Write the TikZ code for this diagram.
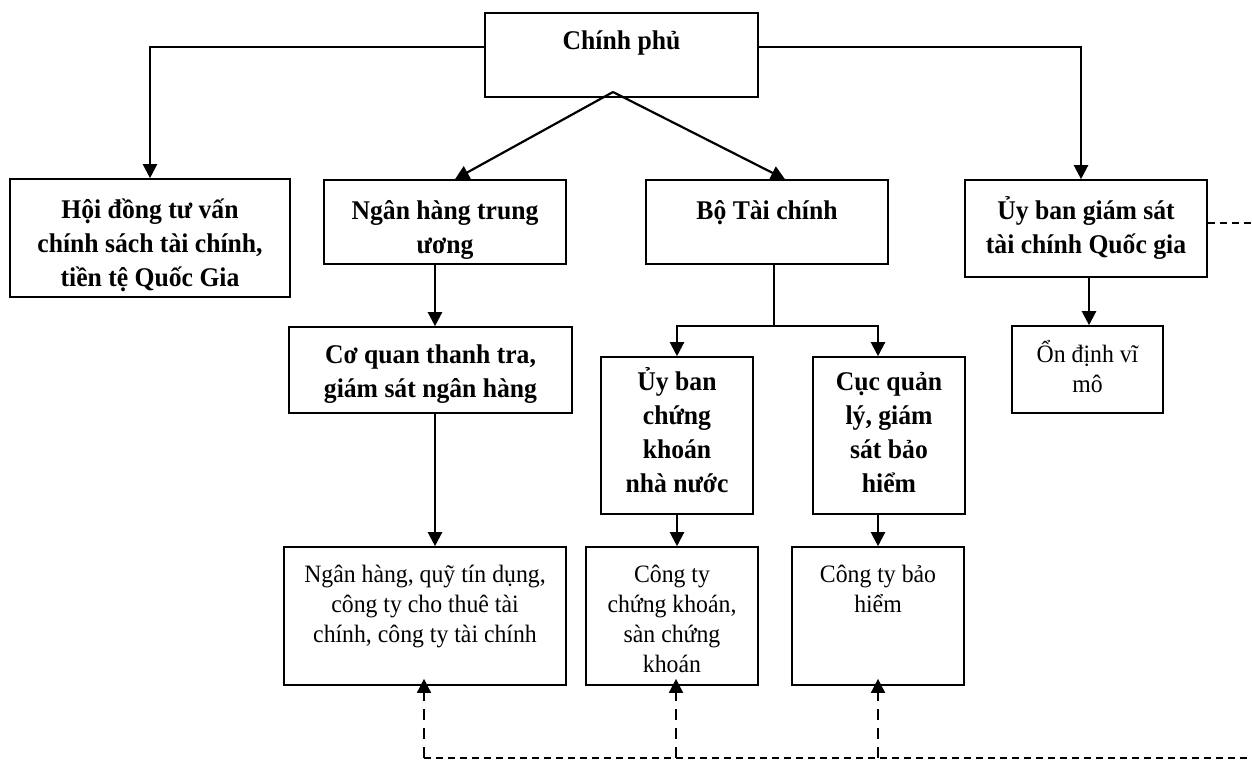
\documentclass[tikz,border=0pt]{standalone}
\usepackage{fontspec}
\setmainfont{Liberation Serif}[FakeStretch=0.95]
\usetikzlibrary{arrows.meta,fit}

\begin{document}
\begin{tikzpicture}[x=1pt,y=-1pt,
	>={Triangle[width=14pt,length=14pt]},
	khung/.style={draw, line width=1.6pt, inner sep=0pt},
	dam/.style={anchor=base, inner sep=0pt, font={\fontsize{27}{34}\selectfont\bfseries}},
	thuong/.style={anchor=base, inner sep=0pt, font={\fontsize{25}{30}\selectfont}},
	thap/.style={yshift=-6pt},
	noi/.style={line width=2.2pt},
	netdut/.style={line width=1.5pt, dash pattern=on 7pt off 5pt},
	netdoc/.style={line width=1.5pt, dash pattern=on 11pt off 8pt}]
	\useasboundingbox (0,0) rectangle (1252,763);

	% khung va chu
	\def\hop#1#2#3#4#5{
		\node[khung, fit={#2 #3}] (#1) {};
		\node[#4] (#1-chu) at ([yshift=-34pt]#1.north)
			{\begin{tabular}[t]{@{}c@{}}#5\end{tabular}};
	}

	\hop{cp}{(485,13)}{(758,97)}{dam,yshift=-3pt}{Chính phủ}
	\hop{hd}{(10,179)}{(290,297)}{dam,thap}{Hội đồng tư vấn\\chính sách tài chính,\\tiền tệ Quốc Gia}
	\hop{nhtw}{(324,180)}{(566,264)}{dam,thap}{Ngân hàng trung\\ương}
	\hop{btc}{(646,180)}{(888,264)}{dam,thap}{Bộ Tài chính}
	\hop{ubgs}{(965,180)}{(1207,277)}{dam,thap}{Ủy ban giám sát\\tài chính Quốc gia}
	\hop{cq}{(289,327)}{(572,413)}{dam,yshift=-3pt}{Cơ quan thanh tra,\\giám sát ngân hàng}
	\hop{ubck}{(601,357)}{(753,514)}{dam}{Ủy ban\\chứng\\khoán\\nhà nước}
	\hop{cuc}{(813,357)}{(965,514)}{dam}{Cục quản\\lý, giám\\sát bảo\\hiểm}
	\hop{od}{(1012,326)}{(1163,413)}{thuong,yshift=-3pt}{Ổn định vĩ\\mô}
	\hop{nhq}{(284,547)}{(566,685)}{thuong,yshift=-2pt}{Ngân hàng, quỹ tín dụng,\\công ty cho thuê tài\\chính, công ty tài chính}
	\hop{ctck}{(586,547)}{(758,685)}{thuong,yshift=-2pt}{Công ty\\chứng khoán,\\sàn chứng\\khoán}
	\hop{ctbh}{(792,547)}{(964,685)}{thuong,yshift=-2pt}{Công ty bảo\\hiểm}

	% duong noi
	\draw[noi,->] (cp.west |- 0,47) -| (hd.north);
	\draw[noi,->] (cp.east |- 0,47) -| (1081,0 |- ubgs.north);
	\coordinate (dinh) at (613,92);
	\draw[noi,->] (dinh) -- (455,0 |- nhtw.north);
	\draw[noi,->] (dinh) -- (785,0 |- btc.north);
	\draw[noi,->] (435,0 |- nhtw.south) -- (435,0 |- cq.north);
	\draw[noi,->] (435,0 |- cq.south) -- (435,0 |- nhq.north);
	\coordinate (re) at (774,326);
	\draw[noi] (re |- btc.south) -- (re);
	\draw[noi,->] (re) -| (ubck.north);
	\draw[noi,->] (re) -| (878,0 |- cuc.north);
	\draw[noi,->] (ubck.south) -- (ctck.north -| ubck.south);
	\draw[noi,->] (878,0 |- cuc.south) -- (878,0 |- ctbh.north);
	\draw[noi,->] (1089,0 |- ubgs.south) -- (1089,0 |- od.north);

	% net dut
	\coordinate (phai) at (1252,223);
	\draw[netdut] (ubgs.east |- phai) -- (phai);
	\coordinate (goc) at (424,758);
	\coordinate (cuoi) at (1252,758);
	\draw[netdut] (goc) -- (cuoi);
	\draw[netdoc,->,shorten >=-7pt] (goc) -- (goc |- nhq.south);
	\draw[netdoc,->,shorten >=-7pt] (676,758) -- (676,0 |- ctck.south);
	\draw[netdoc,->,shorten >=-7pt] (878,758) -- (878,0 |- ctbh.south);
\end{tikzpicture}
\end{document}
